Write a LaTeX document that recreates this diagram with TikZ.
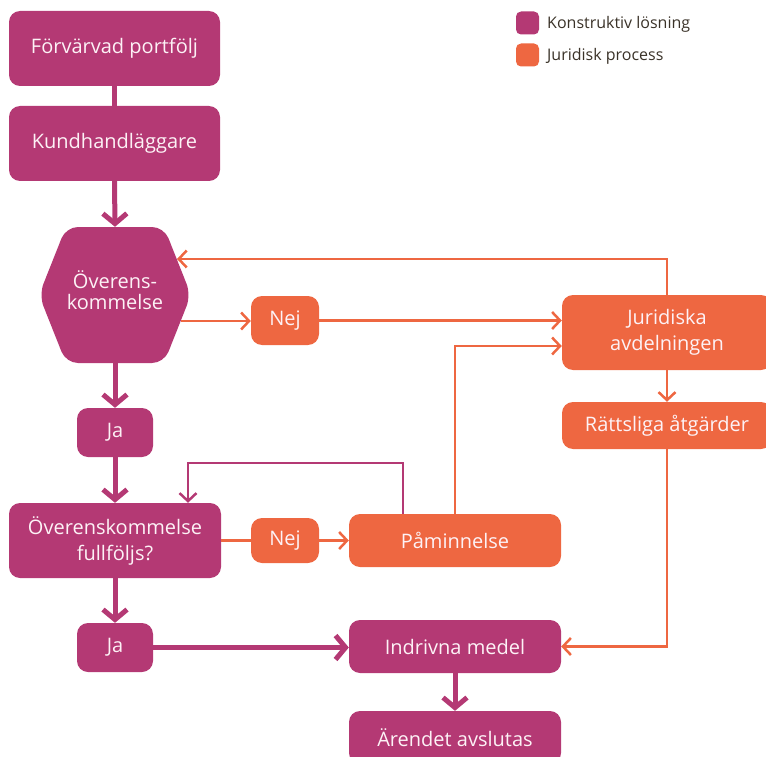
\documentclass[tikz,border=0pt]{standalone}
\usepackage{fontspec}
\setmainfont{Open Sans}
\usetikzlibrary{arrows.meta,calc}
\definecolor{kpurple}{HTML}{B43974}
\definecolor{korange}{HTML}{EE6741}
\definecolor{ktext}{HTML}{FDF2F6}
\definecolor{klegend}{HTML}{3A3228}
\tikzset{
  box/.style={rounded corners=11pt, inner sep=0pt, align=center, text=ktext, font=\fontsize{20}{26}\selectfont},
  pbox/.style={box, fill=kpurple},
  obox/.style={box, fill=korange},
  thick arrow/.style={draw=kpurple, line width=5pt, -{Straight Barb[length=10pt,width=24pt]}},
  thick line/.style={draw=kpurple, line width=5pt},
  thin orange/.style={draw=korange, line width=2.5pt, -{Straight Barb[length=8pt,width=17pt]}},
  thin orange line/.style={draw=korange, line width=2.5pt},
  thin purple/.style={draw=kpurple, line width=2.5pt, -{Straight Barb[length=8pt,width=17pt]}},
  legsq/.style={rounded corners=5pt, minimum size=23pt, inner sep=0pt},
  legtext/.style={anchor=west, text=klegend, font=\fontsize{16}{19}\selectfont, inner sep=0pt}
}
\begin{document}
\begin{tikzpicture}[x=1pt,y=-1pt]
\useasboundingbox (0,0) rectangle (766,757);
% nodes
\node[pbox, minimum width=211pt, minimum height=75pt] (f1) at (114.5,48.5) {Förvärvad portfölj};
\node[pbox, minimum width=211pt, minimum height=75pt] (f2) at (114.5,143.5) {Kundhandläggare};
\node[minimum width=152pt, minimum height=136pt, inner sep=0pt] (hex) at (115,295) {};
\fill[kpurple, rounded corners=12pt] (39,295) -- (66,227) -- (164,227) -- (191,295) -- (164,363) -- (66,363) -- cycle;
\node[box, font=\fontsize{20}{21}\selectfont] (hextext) at (115,290) {Överens-\\kommelse};
\coordinate (hexin) at (177,259);
\coordinate (hexout) at (181,321);
\node[pbox, minimum width=76pt, minimum height=49pt] (ja1) at (115,432.5) {Ja};
\node[pbox, minimum width=212pt, minimum height=75pt] (ok2) at (115,540.5) {Överenskommelse\\fullföljs?};
\node[pbox, minimum width=76pt, minimum height=49pt] (ja2) at (115,647.5) {Ja};
\node[obox, minimum width=68pt, minimum height=49pt] (nej1) at (285,320.5) {Nej};
\node[obox, minimum width=210pt, minimum height=75pt] (jur) at (667,332.5) {Juridiska\\avdelningen};
\node[obox, minimum width=210pt, minimum height=47pt] (rat) at (667,425.5) {Rättsliga åtgärder};
\node[obox, minimum width=68pt, minimum height=45pt] (nej2) at (285,540.5) {Nej};
\node[obox, minimum width=212pt, minimum height=53pt] (pam) at (455,540.5) {Påminnelse};
\node[pbox, minimum width=212pt, minimum height=53pt] (ind) at (455,646.5) {Indrivna medel};
\node[pbox, minimum width=212pt, minimum height=53pt] (are) at (455,737.5) {Ärendet avslutas};
% legend
\node[legsq, fill=kpurple] (lp) at (527.5,23) {};
\node[legsq, fill=korange] (lo) at (527.5,55) {};
\node[legtext] (lpt) at (547,24) {Konstruktiv lösning};
\node[legtext] (lot) at (547,56) {Juridisk process};
% connectors
\draw[thick line] (f1.south) -- (f2.north);
\draw[thick arrow] (f2.south) -- (hex.north);
\draw[thick arrow] (hex.south) -- (ja1.north);
\draw[thick arrow] (ja1.south) -- (ok2.north);
\draw[thick arrow] (ok2.south) -- (ja2.north);
\draw[thick arrow] (ja2.east) -- (ind.west |- ja2.east);
\draw[thick arrow] (ind.south) -- (are.north);
\draw[thin orange] (hexout) -- (nej1.west |- hexout);
\draw[thin orange] (nej1.east) -- (jur.west |- nej1.east);
\draw[thin orange] (jur.north) |- (hexin);
\draw[thin orange] (pam.north) |- ([yshift=-13.5pt]jur.west);
\draw[thin orange] (jur.south) -- (rat.north);
\draw[thin orange] (rat.south) |- (ind.east);
\draw[thin orange line] (ok2.east) -- (nej2.west);
\draw[thin orange] (nej2.east) -- (pam.west);
\draw[thin purple] ([xshift=-52pt]pam.north) -- ++(0,-51) -| ([xshift=73pt]ok2.north);
\end{tikzpicture}
\end{document}
